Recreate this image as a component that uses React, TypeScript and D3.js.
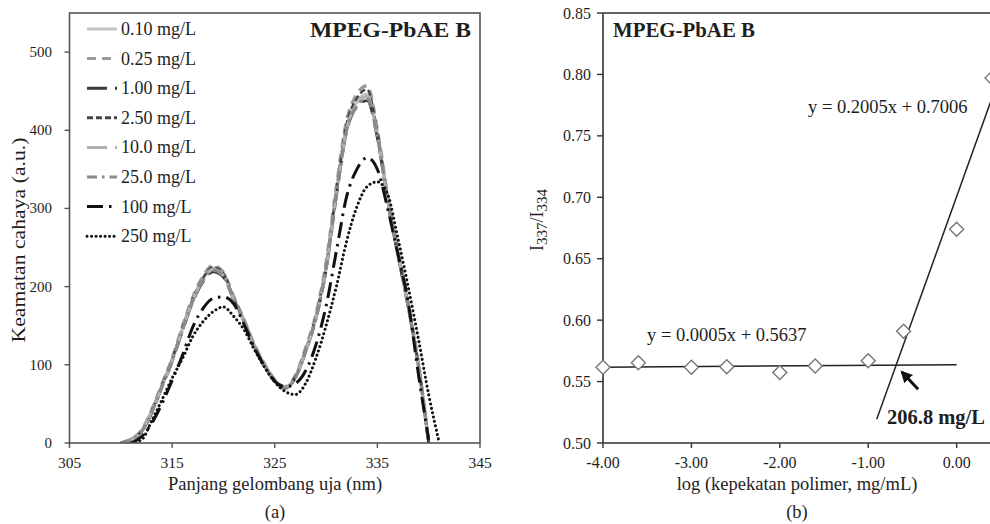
import React from 'react';
import * as d3 from 'd3';

// Left panel: emission spectra of MPEG-PbAE B at 8 concentrations.
// Right panel: I337/I334 ratio vs log concentration with two fitted lines (CMC).

const WAVELENGTH = [
  310, 311, 312, 313, 314, 315, 316, 317, 318, 319, 320, 321, 322, 323, 324, 325,
  326, 327, 328, 329, 330, 331, 332, 333, 334, 335, 336, 337, 338, 339, 340, 341,
];

const SPEC_010 = [0, 4, 15, 40, 73, 106, 146, 183, 210, 224, 215, 185, 157, 125, 100, 80, 71, 84, 118, 160, 225, 320, 404, 436, 446, 395, 312, 243, 176, 100, 0, null];
const SPEC_025 = [0, 5, 16, 42, 75, 108, 149, 186, 213, 227, 218, 187, 158, 126, 101, 81, 72, 86, 121, 164, 230, 327, 412, 446, 457, 400, 316, 246, 178, 102, 0, null];
const SPEC_100 = [0, 4, 14, 38, 71, 104, 143, 180, 206, 219, 212, 183, 155, 124, 99, 79, 70, 83, 116, 158, 221, 315, 398, 430, 438, 390, 309, 240, 174, 99, 0, null];
const SPEC_250 = [0, 5, 15, 41, 74, 107, 147, 184, 211, 225, 217, 186, 157, 125, 100, 80, 71, 85, 119, 162, 227, 323, 408, 441, 452, 398, 314, 245, 177, 101, 0, null];
const SPEC_1000 = [0, 4, 15, 40, 72, 105, 145, 182, 209, 222, 214, 184, 156, 124, 99, 80, 71, 84, 117, 159, 223, 318, 401, 433, 443, 393, 311, 242, 175, 100, 0, null];
const SPEC_2500 = [0, 4, 14, 39, 72, 105, 144, 181, 208, 221, 213, 184, 156, 124, 99, 79, 70, 83, 117, 159, 222, 317, 400, 431, 440, 392, 310, 241, 175, 99, 0, null];
const SPEC_10000 = [null, 0, 8, 25, 50, 80, 112, 148, 172, 185, 187, 178, 152, 122, 98, 79, 72, 76, 92, 125, 175, 245, 315, 350, 365, 350, 300, 242, 180, 88, 4, null];
const SPEC_25000 = [null, 0, 4, 28, 55, 83, 108, 136, 155, 168, 174, 162, 145, 120, 97, 78, 66, 62, 76, 108, 150, 200, 258, 302, 328, 334, 318, 262, 200, 133, 62, 2];

const SERIES_LABELS = ['0.10 mg/L', '0.25 mg/L', '1.00 mg/L', '2.50 mg/L', '10.0 mg/L', '25.0 mg/L', '100 mg/L', '250 mg/L'];
const SERIES_VALUES = [SPEC_010, SPEC_025, SPEC_100, SPEC_250, SPEC_1000, SPEC_2500, SPEC_10000, SPEC_25000];
const SERIES_STYLES = [
  { stroke: '#c4c4c4', dash: null, width: 3.4 },
  { stroke: '#9a9a9a', dash: '9,6', width: 3.4 },
  { stroke: '#3a3a3a', dash: '20,8', width: 2.8 },
  { stroke: '#444444', dash: '6,3', width: 2.4 },
  { stroke: '#b0b0b0', dash: '20,8', width: 3.2 },
  { stroke: '#8a8a8a', dash: '10,5,2.5,5', width: 3.2 },
  { stroke: '#111111', dash: '16,6,2.5,6', width: 3 },
  { stroke: '#111111', dash: '0.1,4.4', width: 3, cap: 'round' },
];

const SPEC_X_TICKS = [305, 315, 325, 335, 345];
const SPEC_Y_TICKS = [0, 100, 200, 300, 400, 500];

// right panel
const LOG_CONC = [-4.0, -3.6, -3.0, -2.6, -2.0, -1.6, -1.0, -0.6, 0.0, 0.4];
const RATIO = [0.5616, 0.5654, 0.5616, 0.562, 0.5573, 0.5627, 0.567, 0.591, 0.674, 0.797];
const FIT_LOW = { slope: 0.0005, intercept: 0.5637, from: -4.0, to: 0.0 };
const FIT_HIGH = { slope: 0.2005, intercept: 0.7006, from: -0.904, to: 0.4 };
const RATIO_X_TICKS = [-4, -3, -2, -1, 0];
const RATIO_Y_TICKS = [0.5, 0.55, 0.6, 0.65, 0.7, 0.75, 0.8, 0.85];

const FONT = '"Liberation Serif", "Times New Roman", serif';
const INK = '#1e1e1e';

export default function App() {
  // ----- spectra panel -----
  const sx = d3.scaleLinear().domain([305, 345]).range([69.5, 480]);
  const sy = d3.scaleLinear().domain([0, 550]).range([443, 13]);
  const specLine = d3
    .line<number | null>()
    .defined((d) => d !== null)
    .x((_, i) => sx(WAVELENGTH[i]))
    .y((d) => sy(d as number))
    .curve(d3.curveMonotoneX);

  // ----- ratio panel -----
  const rx = d3.scaleLinear().domain([-4, 0.4]).range([603, 992]);
  const ry = d3.scaleLinear().domain([0.5, 0.85]).range([443, 13]);
  const fit = (f: typeof FIT_LOW) =>
    d3.line<number>().x((v) => rx(v)).y((v) => ry(f.slope * v + f.intercept))([f.from, f.to]) ?? '';

  const crossX = (FIT_LOW.intercept - FIT_HIGH.intercept) / (FIT_HIGH.slope - FIT_LOW.slope);
  const crossY = FIT_LOW.slope * crossX + FIT_LOW.intercept;

  return (
    <svg
      width={990}
      height={524}
      style={{ position: 'absolute', left: 0, top: 0, background: '#fff', overflow: 'hidden' }}
      fontFamily={FONT}
    >
      <defs>
        <marker id="arrowHead" viewBox="0 0 10 10" refX="8" refY="5" markerWidth="4" markerHeight="4" orient="auto">
          <path d="M0,0 L10,5 L0,10 z" fill="#111" />
        </marker>
        <clipPath id="specClip">
          <rect x={69.5} y={13} width={410.5} height={430} />
        </clipPath>
      </defs>

      {/* ================= LEFT: spectra ================= */}
      <g>
        <g clipPath="url(#specClip)">
          {SERIES_VALUES.map((vals, i) => {
            const st = SERIES_STYLES[i];
            return (
              <path
                key={SERIES_LABELS[i]}
                d={specLine(vals) ?? ''}
                fill="none"
                stroke={st.stroke}
                strokeWidth={st.width}
                strokeDasharray={st.dash ?? undefined}
                strokeLinecap={(st.cap as any) ?? 'butt'}
              />
            );
          })}
        </g>

        <rect x={69.5} y={13} width={410.5} height={430} fill="none" stroke="#555" strokeWidth={1.6} />

        {SPEC_Y_TICKS.map((t) => (
          <g key={`sy-${t}`}>
            <line x1={64.5} x2={69.5} y1={sy(t)} y2={sy(t)} stroke="#555" strokeWidth={1.4} />
            <text x={52} y={sy(t) + 5} textAnchor="end" fontSize={15} fill={INK}>
              {t}
            </text>
          </g>
        ))}
        {SPEC_X_TICKS.map((t) => (
          <g key={`sx-${t}`}>
            <line x1={sx(t)} x2={sx(t)} y1={443} y2={448} stroke="#555" strokeWidth={1.4} />
            <text x={sx(t)} y={468} textAnchor="middle" fontSize={15.5} fill={INK}>
              {t}
            </text>
          </g>
        ))}

        <text x={275} y={490} textAnchor="middle" fontSize={18.5} fill={INK}>
          Panjang gelombang uja (nm)
        </text>
        <text x={275} y={518} textAnchor="middle" fontSize={18.5} fill={INK}>
          (a)
        </text>
        <text
          transform="translate(25, 240) rotate(-90)"
          textAnchor="middle"
          fontSize={18}
          fill={INK}
          textLength={205}
          lengthAdjust="spacingAndGlyphs"
        >
          Keamatan cahaya (a.u.)
        </text>

        <text x={471} y={37} textAnchor="end" fontSize={20} fontWeight="bold" fill={INK} textLength={161} lengthAdjust="spacingAndGlyphs">
          MPEG-PbAE B
        </text>

        {/* legend */}
        {SERIES_LABELS.map((lab, i) => {
          const st = SERIES_STYLES[i];
          const ly = 29 + i * 29.6;
          return (
            <g key={`lg-${lab}`}>
              <line
                x1={87}
                x2={117}
                y1={ly}
                y2={ly}
                stroke={st.stroke}
                strokeWidth={3}
                strokeDasharray={st.dash ?? undefined}
                strokeLinecap={(st.cap as any) ?? 'butt'}
              />
              <text x={121} y={ly + 6} fontSize={18} fill={INK}>
                {lab}
              </text>
            </g>
          );
        })}
      </g>

      {/* ================= RIGHT: ratio vs log conc ================= */}
      <g>
        <line x1={603} x2={603} y1={13} y2={443} stroke="#333" strokeWidth={1.6} />
        <line x1={603} x2={992} y1={443} y2={443} stroke="#333" strokeWidth={1.6} />
        <line x1={603} x2={992} y1={13} y2={13} stroke="#333" strokeWidth={1.6} />

        {RATIO_Y_TICKS.map((t) => (
          <g key={`ry-${t}`}>
            <line x1={597} x2={603} y1={ry(t)} y2={ry(t)} stroke="#333" strokeWidth={1.4} />
            <text x={591} y={ry(t) + 5.5} textAnchor="end" fontSize={16} fill={INK}>
              {t.toFixed(2)}
            </text>
          </g>
        ))}
        {RATIO_X_TICKS.map((t) => (
          <g key={`rx-${t}`}>
            <line x1={rx(t)} x2={rx(t)} y1={443} y2={448} stroke="#333" strokeWidth={1.4} />
            <text x={rx(t)} y={468} textAnchor="middle" fontSize={16} fill={INK}>
              {t.toFixed(2)}
            </text>
          </g>
        ))}

        <path d={fit(FIT_LOW)} stroke="#222" strokeWidth={1.5} fill="none" />
        <path d={fit(FIT_HIGH)} stroke="#222" strokeWidth={1.5} fill="none" />

        {LOG_CONC.map((x, i) => {
          const cx = rx(x);
          const cy = ry(RATIO[i]);
          const r = 7;
          return (
            <path
              key={`pt-${x}`}
              d={`M${cx},${cy - r}L${cx + r},${cy}L${cx},${cy + r}L${cx - r},${cy}Z`}
              fill="#fff"
              stroke="#777"
              strokeWidth={1.4}
            />
          );
        })}

        {/* arrow pointing at the intersection */}
        <line
          x1={rx(crossX) + 22}
          y1={ry(crossY) + 24}
          x2={rx(crossX) + 6}
          y2={ry(crossY) + 7}
          stroke="#111"
          strokeWidth={3}
          markerEnd="url(#arrowHead)"
        />
        <text x={887} y={424} fontSize={20.5} fontWeight="bold" fill={INK}>
          206.8 mg/L
        </text>

        <text x={808} y={113} fontSize={18.5} fill={INK}>
          y = 0.2005x + 0.7006
        </text>
        <text x={647} y={341} fontSize={18.5} fill={INK}>
          y = 0.0005x + 0.5637
        </text>

        <text x={613} y={37} fontSize={20} fontWeight="bold" fill={INK} textLength={142} lengthAdjust="spacingAndGlyphs">
          MPEG-PbAE B
        </text>

        <text x={797} y={490} textAnchor="middle" fontSize={18.5} fill={INK}>
          log (kepekatan polimer, mg/mL)
        </text>
        <text x={797} y={518} textAnchor="middle" fontSize={18.5} fill={INK}>
          (b)
        </text>

        <text transform="translate(543, 220) rotate(-90)" textAnchor="middle" fontSize={18} fill={INK}>
          <tspan>I</tspan>
          <tspan fontSize={15} dy={4}>337</tspan>
          <tspan dy={-4}>/I</tspan>
          <tspan fontSize={15} dy={4}>334</tspan>
        </text>
      </g>
    </svg>
  );
}
